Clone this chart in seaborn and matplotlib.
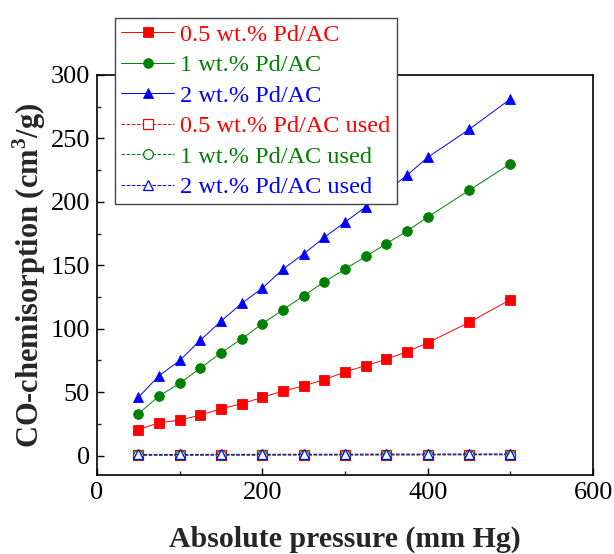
import numpy as np
import pandas as pd
import matplotlib
matplotlib.use("Agg")
import matplotlib.pyplot as plt
import seaborn as sns

sns.set_theme(style="ticks")
plt.rcParams['font.family'] = ['Liberation Serif', 'DejaVu Serif']
plt.rcParams['mathtext.fontset'] = 'custom'
plt.rcParams['mathtext.rm'] = 'Liberation Serif'
plt.rcParams['mathtext.bf'] = 'Liberation Serif:bold'

pressure = [50, 75, 100, 125, 150, 175, 200, 225, 250, 275, 300, 325, 350, 375, 400, 450, 500]
pd05 = [20.5, 26, 28, 32, 37, 41, 46, 51, 55, 60, 66, 71, 76, 82, 89, 105, 123]
pd1 = [33, 47, 57, 69, 81, 92, 104, 115, 126, 137, 147, 157, 167, 177, 188, 209, 230]
pd2 = [46, 63, 75, 91, 106, 120, 132, 147, 159, 172, 184, 196, 208, 221, 235, 257, 281]

pressure_used = [50, 100, 150, 200, 250, 300, 350, 400, 450, 500]
pd05_used = [0.3, 0.3, 0.4, 0.4, 0.5, 0.5, 0.6, 0.6, 0.7, 0.7]
pd1_used = [0.5, 0.5, 0.6, 0.6, 0.7, 0.7, 0.8, 0.8, 0.9, 0.9]
pd2_used = [1.0, 1.0, 1.1, 1.1, 1.2, 1.2, 1.3, 1.3, 1.4, 1.4]

labels = ["0.5 wt.% Pd/AC", "1 wt.% Pd/AC", "2 wt.% Pd/AC",
          "0.5 wt.% Pd/AC used", "1 wt.% Pd/AC used", "2 wt.% Pd/AC used"]

fig = plt.figure(figsize=(6.14, 5.54), dpi=100)
ax = fig.add_axes([0.158, 0.143, 0.808, 0.722])

series = [
    (pressure, pd05, labels[0], "red", "s", "-", True),
    (pressure, pd1, labels[1], "green", "o", "-", True),
    (pressure, pd2, labels[2], "blue", "^", "-", True),
    (pressure_used, pd05_used, labels[3], "red", "s", "--", False),
    (pressure_used, pd1_used, labels[4], "green", "o", "--", False),
    (pressure_used, pd2_used, labels[5], "blue", "^", "--", False),
]

for xs, ys, lab, col, mk, ls, filled in series:
    df = pd.DataFrame({"x": xs, "y": ys})
    sns.lineplot(data=df, x="x", y="y", ax=ax, color=col, marker=mk,
                 linestyle=ls, linewidth=0.7,
                 markersize=7 if mk == "o" else (7.5 if mk == "^" else 6.5),
                 markerfacecolor=col if filled else "white",
                 markeredgecolor=col, markeredgewidth=0.6 if filled else 0.9,
                 label=lab)
if ax.get_legend() is not None:
    ax.get_legend().remove()

ax.set_xlim(0, 600)
ax.set_ylim(-15, 300)
ax.set_xticks([0, 200, 400, 600])
ax.set_yticks([0, 50, 100, 150, 200, 250, 300])
ax.set_yticks([25, 75, 125, 175, 225, 275], minor=True)
ax.set_xticks([100, 300, 500], minor=True)
ax.tick_params(axis='both', which='major', direction='in', length=5, width=1,
               labelsize=19, colors='black', pad=5)
ax.tick_params(axis='both', which='minor', direction='in', length=3, width=1)
for s in ax.spines.values():
    s.set_linewidth(1.2)
    s.set_color('black')

ax.set_xlabel("Absolute pressure (mm Hg)", fontsize=21.5, fontweight='bold', labelpad=16)
ax.set_ylabel(r"CO-chemisorption (cm$^\mathbf{3}$/g)", fontsize=22, fontweight='bold', labelpad=2)

handles, labs = ax.get_legend_handles_labels()
leg = fig.legend(handles, labs, loc='upper left', bbox_to_anchor=(0.187, 0.968),
                 frameon=True, fancybox=False, edgecolor='#444444', fontsize=17.5,
                 handlelength=2.2, handletextpad=0.25, labelspacing=0.35,
                 borderpad=0.25, borderaxespad=0, framealpha=1)
leg.get_frame().set_linewidth(1.0)
for t, (_, _, _, col, _, _, _) in zip(leg.get_texts(), series):
    t.set_color(col)

fig.savefig("out.png", dpi=100)
